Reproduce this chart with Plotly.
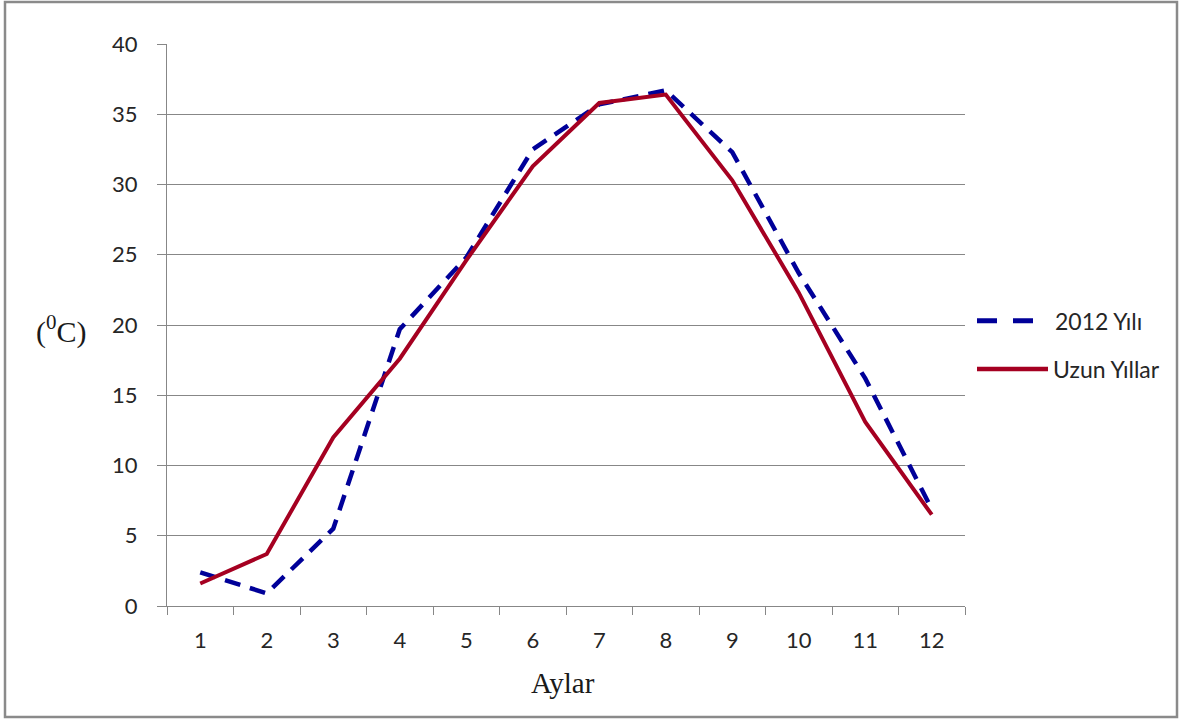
import plotly.graph_objects as go

months = ["1", "2", "3", "4", "5", "6", "7", "8", "9", "10", "11", "12"]
y2012 = [2.4, 0.9, 5.5, 19.7, 24.8, 32.5, 35.7, 36.7, 32.3, 23.7, 16.2, 6.9]
uzun = [1.6, 3.7, 12.0, 17.6, 24.6, 31.3, 35.8, 36.4, 30.3, 22.3, 13.1, 6.5]
series_names = ["2012 Yılı", "Uzun Yıllar"]
yticks = [0, 5, 10, 15, 20, 25, 30, 35, 40]

BLUE = "#000099"
RED = "#A50021"
GRID = "#878787"
W, H = 1187, 722
L, R, T, B = 167, 222, 44, 116
PW, PH = W - L - R, H - T - B

def px(x):
    return (x - L) / PW

def py(y):
    return (H - B - y) / PH

fig = go.Figure()
fig.add_trace(go.Scatter(x=months, y=y2012, mode="lines", name=series_names[0],
                         line=dict(color=BLUE, width=4.5, dash="16px,10px"),
                         showlegend=False))
fig.add_trace(go.Scatter(x=months, y=uzun, mode="lines", name=series_names[1],
                         line=dict(color=RED, width=4),
                         showlegend=False))

tickfont = dict(family="Lato", size=22, color="#262626")

fig.update_layout(
    width=W, height=H,
    margin=dict(l=L, r=R, t=T, b=B),
    paper_bgcolor="white", plot_bgcolor="white",
    xaxis=dict(type="category", categoryarray=months, tickson="boundaries",
               showline=True, linecolor=GRID, linewidth=1.3,
               ticks="outside", ticklen=8, tickcolor=GRID, tickwidth=1.3,
               showgrid=False, tickfont=tickfont, ticklabelstandoff=14,
               range=[-0.5, 11.5]),
    yaxis=dict(range=[0, 40], tickvals=yticks, showline=True, linecolor=GRID, linewidth=1.3,
               ticks="outside", ticklen=9, tickcolor=GRID, tickwidth=1.3,
               showgrid=True, gridcolor=GRID, gridwidth=1.3, zeroline=False,
               tickfont=tickfont, ticklabelstandoff=15),
    shapes=[
        dict(type="rect", xref="paper", yref="paper",
             x0=px(5), x1=px(1177), y0=py(717), y1=py(2),
             line=dict(color="#8a8a8a", width=2.5), layer="below"),
        dict(type="line", xref="paper", yref="paper",
             x0=px(977), x1=px(1033), y0=py(320.7), y1=py(320.7),
             line=dict(color=BLUE, width=5, dash="20px,16px")),
        dict(type="line", xref="paper", yref="paper",
             x0=px(977), x1=px(1048), y0=py(369), y1=py(369),
             line=dict(color=RED, width=4.5)),
    ],
    annotations=[
        dict(text="Aylar", xref="paper", yref="paper", x=px(563), y=py(683),
             xanchor="center", yanchor="middle", showarrow=False,
             font=dict(family="Liberation Serif", size=29, color="#1a1a1a")),
        dict(text="(<sup>0</sup>C)", xref="paper", yref="paper", x=px(61), y=py(329),
             xanchor="center", yanchor="middle", showarrow=False,
             font=dict(family="Liberation Serif", size=30, color="#1a1a1a")),
        dict(text=series_names[0], xref="paper", yref="paper", x=px(1053), y=py(321),
             xanchor="left", yanchor="middle", showarrow=False,
             font=dict(family="Lato", size=23, color="#262626")),
        dict(text=series_names[1], xref="paper", yref="paper", x=px(1051), y=py(369),
             xanchor="left", yanchor="middle", showarrow=False,
             font=dict(family="Lato", size=23, color="#262626")),
    ],
)

fig.write_html("out.html")
